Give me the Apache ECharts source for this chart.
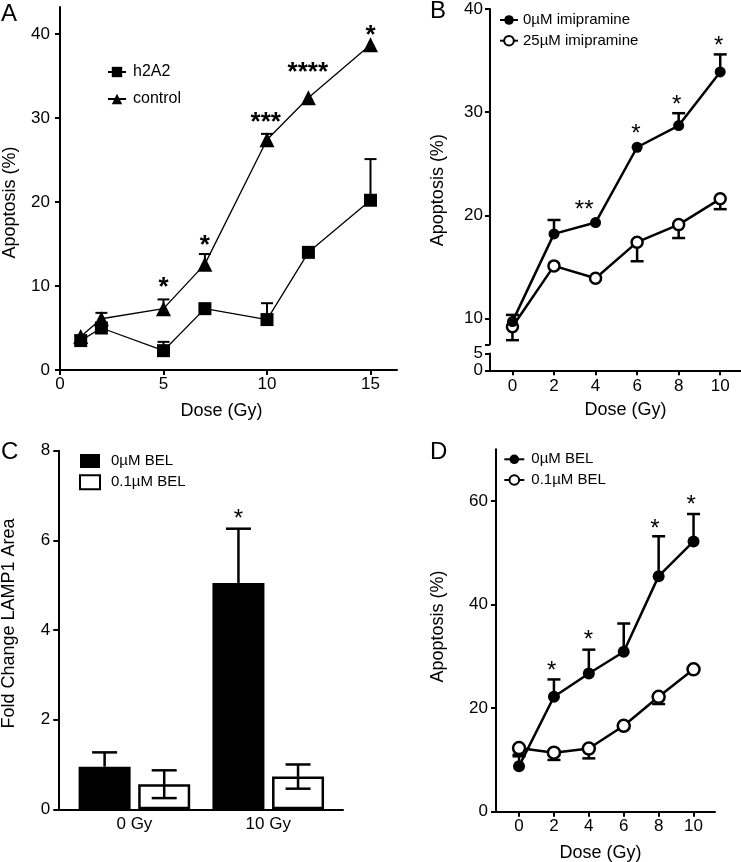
<!DOCTYPE html>
<html><head><meta charset="utf-8">
<script src="https://cdn.jsdelivr.net/npm/echarts@6/dist/echarts.min.js"></script>
<style>html,body{margin:0;padding:0;background:#fff}#c{width:741px;height:862px}</style>
</head><body><div id="c"></div>
<script>
// ---------- Panel A ----------
const doseA = [1, 2, 5, 7, 10, 12, 15];
const h2a2Mean = [3.5, 5.0, 2.3, 7.3, 6.0, 14.0, 20.2];
const h2a2Err = [0, 0, 1.05, 0, 1.95, 0, 4.9];
const controlMean = [4.0, 6.1, 7.3, 12.6, 27.4, 32.4, 38.7];
const controlErr = [0, 0.7, 1.1, 1.2, 0.7, 0, 0];
const starsA = [[5, 10.5, '*'], [7, 15.4, '*'], [9.94, 30.1, '***'], [11.97, 36.1, '****'], [15, 40.5, '*']];
const ticksAX = [0, 5, 10, 15];
const ticksAY = [0, 10, 20, 30, 40];

// ---------- Panel B ----------
const doseB = [0, 2, 4, 6, 8, 10];
const imi0Mean = [9.7, 18.2, 19.3, 26.6, 28.7, 33.9];
const imi0Err = [0.65, 1.35, 0, 0, 1.2, 1.7];
const imi25Mean = [9.2, 15.1, 13.9, 17.4, 19.1, 21.6];
const imi25Err = [1.3, 0, 0, 1.85, 1.3, 1.0];
const starsB = [[3.45, 21.0, '**'], [5.94, 28.4, '*'], [7.9, 31.2, '*'], [9.92, 36.9, '*']];
const ticksBX = [0, 2, 4, 6, 8, 10];
const ticksBYUpper = [7.5, 10, 20, 30, 40];
const labelsBYUpper = [10, 20, 30, 40];
const ticksBYLower = [0, 5];

// ---------- Panel C ----------
const groupsC = ['0 Gy', '10 Gy'];
const bel0C = [0.95, 5.05];
const bel0CErr = [0.32, 1.21];
const bel01C = [0.56, 0.73];
const bel01CErr = [0.31, 0.27];
const starsC = [[1, 6.59, '*']];
const ticksCY = [0, 2, 4, 6, 8];

// ---------- Panel D ----------
const doseD = [0, 2, 4, 6, 8, 10];
const bel0D = [8.8, 22.2, 26.7, 30.9, 45.5, 52.2];
const bel0DErr = [1.9, 3.35, 4.6, 5.45, 7.7, 5.3];
const bel01D = [12.3, 11.4, 12.2, 16.6, 22.2, 27.5];
const bel01DErr = [1.3, 1.4, 1.9, 0, 1.4, 0];
const starsD = [[1.87, 28.1, '*'], [3.97, 34.1, '*'], [7.79, 55.6, '*'], [9.86, 60.1, '*']];
const ticksDX = [0, 2, 4, 6, 8, 10];
const ticksDY = [0, 20, 40, 60];

// ---------- helpers ----------
const FONT = "'Liberation Sans', Arial, Helvetica, sans-serif";
const zip = (a, b) => a.map((v, i) => [v, b[i]]);
const zip3 = (a, b, c) => a.map((v, i) => [v, b[i], c[i]]);

function makeAxis(o) {
  const ax = {
    type: 'value', gridIndex: o.grid, min: o.min, max: o.max, show: o.show !== false,
    axisLine: { show: true, onZero: false, lineStyle: { color: '#000', width: 2 } },
    axisTick: { show: o.tick !== false, length: 5, lineStyle: { color: '#000', width: 2 } },
    axisLabel: { show: o.label !== false, color: '#000', fontSize: o.fs || 17, fontFamily: FONT, margin: o.margin == null ? 8 : o.margin },
    splitLine: { show: false }
  };
  if (o.ticks) ax.axisTick.customValues = o.ticks;
  if (o.labels || o.ticks) ax.axisLabel.customValues = o.labels || o.ticks;
  if (o.formatter) ax.axisLabel.formatter = o.formatter;
  if (o.name) {
    ax.name = o.name;
    ax.nameLocation = 'middle';
    ax.nameGap = o.nameGap;
    ax.nameTextStyle = { color: '#000', fontSize: 18, fontFamily: FONT, padding: o.namePad || 0 };
  }
  return ax;
}

// error bar renderer: dir 'up' | 'down' | 'both'; pxOff shifts horizontally (bar offsets)
function errSeries(xi, yi, data, dir, capW, lw, pxOff, z) {
  return {
    type: 'custom', xAxisIndex: xi, yAxisIndex: yi, data: data, z: z || 1, silent: true,
    encode: { x: 0, y: 1 },
    renderItem: function (params, api) {
      const x = api.value(0), m = api.value(1), e = api.value(2);
      if (!e) return null;
      const off = pxOff || 0;
      const pm = api.coord([x, m]);
      const cx = pm[0] + off;
      const children = [];
      const style = { stroke: '#000', lineWidth: lw, fill: null };
      const addArm = (val) => {
        const p = api.coord([x, val]);
        children.push({ type: 'line', shape: { x1: cx, y1: pm[1], x2: cx, y2: p[1] }, style: style });
        children.push({ type: 'line', shape: { x1: cx - capW / 2, y1: p[1], x2: cx + capW / 2, y2: p[1] }, style: style });
      };
      if (dir === 'up' || dir === 'both') addArm(m + e);
      if (dir === 'down' || dir === 'both') addArm(m - e);
      return { type: 'group', children: children };
    }
  };
}

function starSeries(xi, yi, stars, fs, weight, pxOff) {
  return {
    type: 'custom', xAxisIndex: xi, yAxisIndex: yi, silent: true, z: 5,
    data: stars.map(s => [s[0], s[1]]),
    encode: { x: 0, y: 1 },
    renderItem: function (params, api) {
      const p = api.coord([api.value(0), api.value(1)]);
      return {
        type: 'text',
        x: p[0] + (pxOff || 0), y: p[1] + fs * 0.22,
        style: { text: stars[params.dataIndex][2], align: 'center', verticalAlign: 'middle', fontSize: fs, fontWeight: weight, fontFamily: FONT, fill: '#000' }
      };
    }
  };
}

const stripName = n => n.replace(/^[A-D]: /, '');

const BAR_W = 52, BAR_GAP = 7.6;
const barOff = (BAR_W + BAR_GAP) / 2;

const option = {
  backgroundColor: '#fff',
  animation: false,
  textStyle: { fontFamily: FONT, color: '#000' },
  grid: [
    { left: 60, top: 7, width: 337, height: 363, containLabel: false, outerBoundsMode: 'none' },
    { left: 490, top: 9, width: 251, height: 335.3, containLabel: false, outerBoundsMode: 'none' },
    { left: 490, top: 353.5, width: 251, height: 16.8, containLabel: false, outerBoundsMode: 'none' },
    { left: 58.3, top: 450.7, width: 284.7, height: 358.6, containLabel: false, outerBoundsMode: 'none' },
    { left: 496, top: 449.3, width: 219, height: 362.4, containLabel: false, outerBoundsMode: 'none' }
  ],
  xAxis: [
    makeAxis({ grid: 0, min: 0, max: 16.28, ticks: ticksAX, margin: 6, name: 'Dose (Gy)', nameGap: 32, namePad: [0, 14, 0, 0] }),
    makeAxis({ grid: 1, min: -1.08, max: 11, show: false }),
    makeAxis({ grid: 2, min: -1.08, max: 11, ticks: ticksBX, margin: 8, name: 'Dose (Gy)', nameGap: 31, namePad: [0, 0, 0, 20] }),
    makeAxis({ grid: 3, min: -0.5686, max: 1.5585, tick: false, ticks: [0, 1], margin: 7, formatter: v => groupsC[Math.round(v)] }),
    makeAxis({ grid: 4, min: -1.32, max: 11.23, ticks: ticksDX, margin: 6, name: 'Dose (Gy)', nameGap: 32, namePad: [0, 10, 0, 0] })
  ],
  yAxis: [
    makeAxis({ grid: 0, min: 0, max: 43.2, ticks: ticksAY, margin: 10, name: 'Apoptosis (%)', nameGap: 41, namePad: [0, 28, 0, 0] }),
    makeAxis({ grid: 1, min: 7.5, max: 40, ticks: ticksBYUpper, labels: labelsBYUpper, margin: 7, name: 'Apoptosis (%)', nameGap: 43, namePad: [0, 27, 0, 0] }),
    makeAxis({ grid: 2, min: 0, max: 5, ticks: ticksBYLower, margin: 7 }),
    makeAxis({ grid: 3, min: 0, max: 8, ticks: ticksCY, margin: 8, name: 'Fold Change LAMP1 Area', nameGap: 40, namePad: [0, 0, 0, 13] }),
    makeAxis({ grid: 4, min: 0, max: 70, ticks: ticksDY, margin: 8, name: 'Apoptosis (%)', nameGap: 49, namePad: [0, 0, 0, 8] })
  ],
  legend: [
    { left: 107, top: 64, padding: 0, orient: 'vertical', itemWidth: 18, itemHeight: 13, itemGap: 11, selectedMode: false,
      data: ['A: h2A2', 'A: control'], formatter: stripName, textStyle: { fontSize: 16, fontFamily: FONT, color: '#000', padding: [0, 0, 0, 2] } },
    { left: 499, top: 12.5, padding: 0, orient: 'vertical', itemWidth: 18, itemHeight: 12, itemGap: 5.7, selectedMode: false,
      data: ['B: 0µM imipramine', 'B: 25µM imipramine'], formatter: stripName, textStyle: { fontSize: 15, fontFamily: FONT, color: '#000' } },
    { left: 79, top: 453.5, padding: 0, orient: 'vertical', itemWidth: 20, itemHeight: 14, itemGap: 5.7, selectedMode: false, icon: 'rect',
      data: ['C: 0µM BEL', 'C: 0.1µM BEL'], formatter: stripName, textStyle: { fontSize: 15, fontFamily: FONT, color: '#000', padding: [0, 0, 0, 6] } },
    { left: 503.3, top: 451.8, padding: 0, orient: 'vertical', itemWidth: 20, itemHeight: 12, itemGap: 5.7, selectedMode: false,
      data: ['D: 0µM BEL', 'D: 0.1µM BEL'], formatter: stripName, textStyle: { fontSize: 15, fontFamily: FONT, color: '#000', padding: [0, 0, 0, 2] } }
  ],
  graphic: [
    { type: 'text', left: 1, top: 2, style: { text: 'A', fontSize: 24, fontFamily: FONT, fill: '#000' } },
    { type: 'text', left: 430, top: -1, style: { text: 'B', fontSize: 24, fontFamily: FONT, fill: '#000' } },
    { type: 'text', left: 1, top: 440, style: { text: 'C', fontSize: 24, fontFamily: FONT, fill: '#000' } },
    { type: 'text', left: 430, top: 440, style: { text: 'D', fontSize: 24, fontFamily: FONT, fill: '#000' } }
  ],
  series: [
    // ----- A -----
    errSeries(0, 0, zip3(doseA, h2a2Mean, h2a2Err), 'up', 12, 2),
    errSeries(0, 0, zip3(doseA, controlMean, controlErr), 'up', 12, 2),
    { name: 'A: h2A2', type: 'line', xAxisIndex: 0, yAxisIndex: 0, data: zip(doseA, h2a2Mean),
      symbol: 'rect', symbolSize: 13, itemStyle: { color: '#000' }, lineStyle: { color: '#000', width: 1.3 }, z: 3 },
    { name: 'A: control', type: 'line', xAxisIndex: 0, yAxisIndex: 0, data: zip(doseA, controlMean),
      symbol: 'triangle', symbolSize: 15, itemStyle: { color: '#000' }, lineStyle: { color: '#000', width: 1.3 }, z: 3 },
    starSeries(0, 0, starsA, 26, 'bold'),
    // ----- B -----
    errSeries(1, 1, zip3(doseB, imi25Mean, imi25Err), 'down', 13, 2.5),
    errSeries(1, 1, zip3(doseB, imi0Mean, imi0Err), 'up', 13, 2.5),
    { name: 'B: 25µM imipramine', type: 'line', xAxisIndex: 1, yAxisIndex: 1, data: zip(doseB, imi25Mean),
      symbol: 'circle', symbolSize: 11, itemStyle: { color: '#fff', borderColor: '#000', borderWidth: 2.5 },
      lineStyle: { color: '#000', width: 2.5 }, z: 3 },
    { name: 'B: 0µM imipramine', type: 'line', xAxisIndex: 1, yAxisIndex: 1, data: zip(doseB, imi0Mean),
      symbol: 'circle', symbolSize: 11, itemStyle: { color: '#000' }, lineStyle: { color: '#000', width: 2.5 }, z: 3 },
    starSeries(1, 1, starsB, 24, 'normal'),
    // ----- C -----
    { name: 'C: 0µM BEL', type: 'bar', xAxisIndex: 3, yAxisIndex: 3, data: bel0C.map((v, i) => [i, v]),
      barWidth: BAR_W, barGap: (BAR_GAP / BAR_W * 100).toFixed(1) + '%',
      itemStyle: { color: '#000', borderColor: '#000', borderWidth: 0 } },
    { name: 'C: 0.1µM BEL', type: 'bar', xAxisIndex: 3, yAxisIndex: 3, data: bel01C.map((v, i) => [i, v]),
      barWidth: BAR_W, barGap: (BAR_GAP / BAR_W * 100).toFixed(1) + '%',
      itemStyle: { color: '#fff', borderColor: '#000', borderWidth: 2.5 } },
    errSeries(3, 3, bel0C.map((v, i) => [i, v, bel0CErr[i]]), 'up', 25, 2.5, -barOff, 4),
    errSeries(3, 3, bel01C.map((v, i) => [i, v, bel01CErr[i]]), 'both', 25, 2.5, barOff, 4),
    starSeries(3, 3, starsC, 24, 'normal', -barOff),
    // ----- D -----
    errSeries(4, 4, zip3(doseD, bel01D, bel01DErr), 'down', 13, 2.5),
    errSeries(4, 4, zip3(doseD, bel0D, bel0DErr), 'up', 13, 2.5),
    { name: 'D: 0.1µM BEL', type: 'line', xAxisIndex: 4, yAxisIndex: 4, data: zip(doseD, bel01D),
      symbol: 'circle', symbolSize: 12, itemStyle: { color: '#fff', borderColor: '#000', borderWidth: 2.5 },
      lineStyle: { color: '#000', width: 2.5 }, z: 3 },
    { name: 'D: 0µM BEL', type: 'line', xAxisIndex: 4, yAxisIndex: 4, data: zip(doseD, bel0D),
      symbol: 'circle', symbolSize: 12, itemStyle: { color: '#000' }, lineStyle: { color: '#000', width: 2.5 }, z: 3 },
    starSeries(4, 4, starsD, 24, 'normal')
  ]
};

const chart = echarts.init(document.getElementById('c'), null, { renderer: 'canvas' });
chart.setOption(option);
</script>
</body></html>
